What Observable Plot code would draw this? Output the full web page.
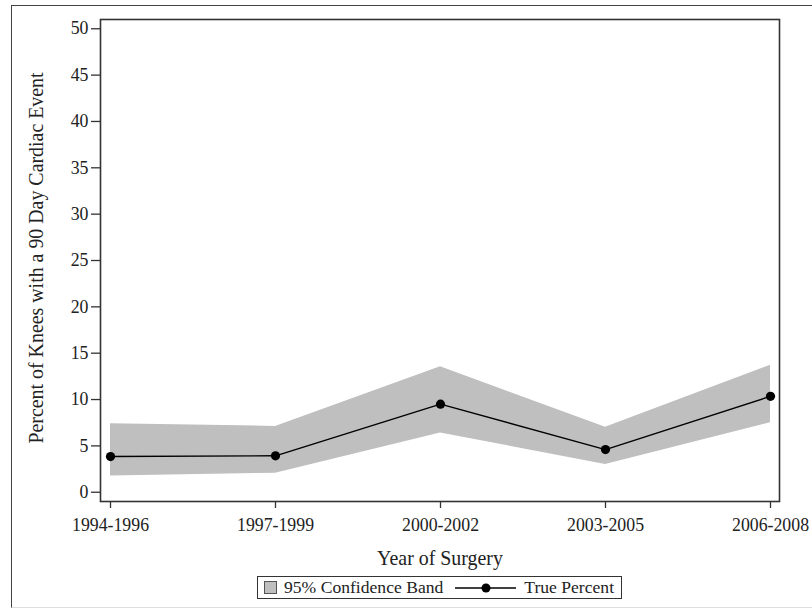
<!DOCTYPE html>
<html>
<head>
<meta charset="utf-8">
<script src="https://cdn.jsdelivr.net/npm/d3@7"></script>
<script src="https://cdn.jsdelivr.net/npm/@observablehq/plot@0.6"></script>
<style>
  html, body { margin: 0; padding: 0; background: #fff; overflow: hidden; }
  #wrap { position: relative; width: 812px; height: 611px; font-family: "Liberation Serif", serif; color: #222; }
  #border { position: absolute; left: 11px; top: 5px; width: 820px; height: 601px;
            border-left: 1.5px solid #444; border-top: 1.5px solid #444; border-bottom: 1px solid #ddd; }
  #chart { position: absolute; left: 0; top: 0; }
  #legend { position: absolute; left: 257px; top: 576px; width: 363px; height: 21px;
            border: 1.5px solid #333; display: flex; align-items: center; font-size: 17.6px; white-space: nowrap; }
  #legend .sw { width: 11px; height: 11px; background: #bfbfbf; border: 1px solid #555; margin-left: 6px; margin-right: 7px; }
  #legend svg { margin-left: 12px; margin-right: 8px; }
</style>
</head>
<body>
<div id="wrap">
  <div id="border"></div>
  <div id="chart"></div>
  <div id="legend">
    <div class="sw"></div><span>95% Confidence Band</span>
    <svg width="61" height="12"><line x1="0" x2="61" y1="6" y2="6" stroke="#000" stroke-width="1.5"></line><circle cx="31" cy="6" r="4.5" fill="#000"></circle></svg>
    <span>True Percent</span>
  </div>
</div>
<script>
// Surgery periods and the 90-day cardiac event rate (%) with its 95% confidence band
const periods = ["1994-1996", "1997-1999", "2000-2002", "2003-2005", "2006-2008"];
const truePercent = [3.85, 3.93, 9.5, 4.6, 10.35];
const lowerCI = [1.75, 2.05, 6.4, 3.0, 7.5];
const upperCI = [7.4, 7.1, 13.55, 7.0, 13.7];
const yTicks = [0, 5, 10, 15, 20, 25, 30, 35, 40, 45, 50];

const yLabel = "Percent of Knees with a 90 Day Cardiac Event";
const xLabel = "Year of Surgery";

const rows = periods.map((p, i) => ({period: p, pct: truePercent[i], lo: lowerCI[i], hi: upperCI[i]}));

const font = "Liberation Serif";

const chart = Plot.plot({
  width: 812,
  height: 570,
  marginLeft: 100,
  marginRight: 33,
  marginTop: 19,
  marginBottom: 69,
  style: {fontFamily: font, background: "transparent", color: "#222", overflow: "visible"},
  x: {type: "point", domain: periods, padding: 0.05},
  y: {domain: [-1, 51]},
  marks: [
    Plot.areaY(rows, {x: "period", y1: "lo", y2: "hi", fill: "#bfbfbf", curve: "linear"}),
    Plot.line(rows, {x: "period", y: "pct", stroke: "#000", strokeWidth: 1.4}),
    Plot.dot(rows, {x: "period", y: "pct", r: 4.6, fill: "#000"}),
    Plot.frame({stroke: "#333", strokeWidth: 1.6}),
    Plot.axisY(yTicks, {tickSize: 9, tickPadding: 3, fontSize: 17.8, label: null, stroke: "#333", strokeWidth: 1.3}),
    Plot.axisX(periods, {tickSize: 7, tickPadding: 10, fontSize: 17.8, label: null, stroke: "#333", strokeWidth: 1.3}),
    Plot.text([yLabel], {frameAnchor: "left", dx: -64, dy: -2.5, rotate: -90, fontSize: 19.9, fill: "#222", textAnchor: "middle", lineAnchor: "middle"}),
    Plot.text([xLabel], {frameAnchor: "bottom", dy: 57, fontSize: 19.9, fill: "#222", textAnchor: "middle", lineAnchor: "middle"})
  ]
});

document.getElementById("chart").appendChild(chart);
</script>
</body>
</html>
